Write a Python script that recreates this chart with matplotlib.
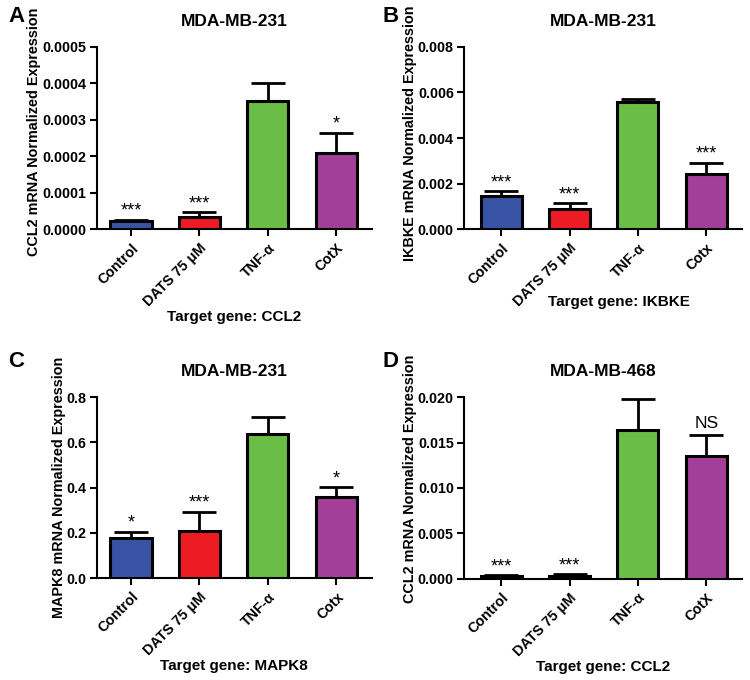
import numpy as np
import matplotlib.pyplot as plt

plt.rcParams["font.family"] = ["Liberation Sans", "DejaVu Sans"]

# Colores de las barras
colores = ["#3953a4", "#ed1c24", "#6abd45", "#a33f98"]

# Panel A: CCL2, MDA-MB-231
etiquetas_a = ["Control", "DATS 75 μM", "TNF-α", "CotX"]
media_a = [0.0000220, 0.0000339, 0.000352, 0.000208]
error_a = [0.0000045, 0.0000119, 0.000048, 0.000057]
signif_a = ["***", "***", "", "*"]

# Panel B: IKBKE, MDA-MB-231
etiquetas_b = ["Control", "DATS 75 μM", "TNF-α", "Cotx"]
media_b = [0.00145, 0.00088, 0.00558, 0.00240]
error_b = [0.00021, 0.00025, 0.00015, 0.00052]
signif_b = ["***", "***", "", "***"]

# Panel C: MAPK8, MDA-MB-231
etiquetas_c = ["Control", "DATS 75 μM", "TNF-α", "Cotx"]
media_c = [0.178, 0.208, 0.635, 0.359]
error_c = [0.027, 0.084, 0.078, 0.043]
signif_c = ["*", "***", "", "*"]

# Panel D: CCL2, MDA-MB-468
etiquetas_d = ["Control", "DATS 75 μM", "TNF-α", "CotX"]
media_d = [0.00030, 0.00035, 0.01634, 0.01355]
error_d = [0.00010, 0.00015, 0.00340, 0.00224]
signif_d = ["***", "***", "", "NS"]


def panel(fig, pos, x_izq, titulo, ylabel, xlabel, etiquetas, media, error,
          signif, ymax, ticks, fmt, pos_ylabel, pos_xlabel):
    ax = fig.add_axes(pos)
    x = np.arange(len(media))
    ax.bar(x, media, width=0.6, color=colores, edgecolor="black",
           linewidth=2.2, zorder=3)
    ax.errorbar(x, media, yerr=[np.zeros(len(error)), error], fmt="none",
                ecolor="black", elinewidth=2, capsize=12, capthick=2,
                zorder=2)
    for xi, m, e, s in zip(x, media, error, signif):
        if not s:
            continue
        if s == "NS":
            ax.annotate(s, (xi, m + e), xytext=(0, 3),
                        textcoords="offset points", ha="center",
                        va="bottom", fontsize=12.5)
        else:
            ax.annotate(s, (xi, m + e), xytext=(0, 0),
                        textcoords="offset points", ha="center",
                        va="bottom", fontsize=13)
    ax.set_xlim(x_izq, 3.52)
    ax.set_ylim(0, ymax)
    ax.set_yticks(ticks)
    ax.set_yticklabels([fmt.format(t) for t in ticks], fontweight="bold",
                       fontsize=10.3)
    ax.set_xticks(x)
    ax.set_xticklabels(etiquetas, rotation=45, ha="right",
                       rotation_mode="anchor", fontweight="bold",
                       fontsize=10.3)
    for s in ["top", "right"]:
        ax.spines[s].set_visible(False)
    for s in ["left", "bottom"]:
        ax.spines[s].set_linewidth(1.5)
    ax.tick_params(width=1.5, length=5)
    ax.tick_params(axis="y", pad=2.5)
    ax.set_title(titulo, fontweight="bold", fontsize=12.5, pad=15)
    ax.set_ylabel(ylabel, fontweight="bold", fontsize=10.4)
    ax.yaxis.set_label_coords(*pos_ylabel)
    ax.set_xlabel(xlabel, fontweight="bold", fontsize=11)
    ax.xaxis.set_label_coords(*pos_xlabel)
    return ax


fig = plt.figure(figsize=(7.5, 6.8), dpi=100)

panel(fig, [0.129, 0.663, 0.367, 0.268], -0.5, "MDA-MB-231",
      "CCL2 mRNA Normalized Expression", "Target gene: CCL2",
      etiquetas_a, media_a, error_a, signif_a, 0.0005,
      [0, 0.0001, 0.0002, 0.0003, 0.0004, 0.0005], "{:.4f}",
      (-0.204, 0.535), (0.5, -0.445))
panel(fig, [0.619, 0.663, 0.370, 0.268], -0.54, "MDA-MB-231",
      "IKBKE mRNA Normalized Expression", "Target gene: IKBKE",
      etiquetas_b, media_b, error_b, signif_b, 0.008,
      [0, 0.002, 0.004, 0.006, 0.008], "{:.3f}",
      (-0.17, 0.525), (0.558, -0.363))
panel(fig, [0.129, 0.150, 0.367, 0.266], -0.5, "MDA-MB-231",
      "MAPK8 mRNA Normalized Expression", "Target gene: MAPK8",
      etiquetas_c, media_c, error_c, signif_c, 0.8,
      [0, 0.2, 0.4, 0.6, 0.8], "{:.1f}",
      (-0.113, 0.5), (0.5, -0.447))
panel(fig, [0.619, 0.149, 0.370, 0.267], -0.54, "MDA-MB-468",
      "CCL2 mRNA Normalized Expression", "Target gene: CCL2",
      etiquetas_d, media_d, error_d, signif_d, 0.020,
      [0, 0.005, 0.010, 0.015, 0.020], "{:.3f}",
      (-0.17, 0.55), (0.5, -0.45))

# Letras de los paneles
for letra, xp, yp in [("A", 8, 6), ("B", 382, 6), ("C", 8, 351),
                      ("D", 382, 351)]:
    fig.text(xp / 750, 1 - yp / 680, letra, fontsize=16, fontweight="bold",
             ha="left", va="top")

fig.savefig("out.png", dpi=100)
